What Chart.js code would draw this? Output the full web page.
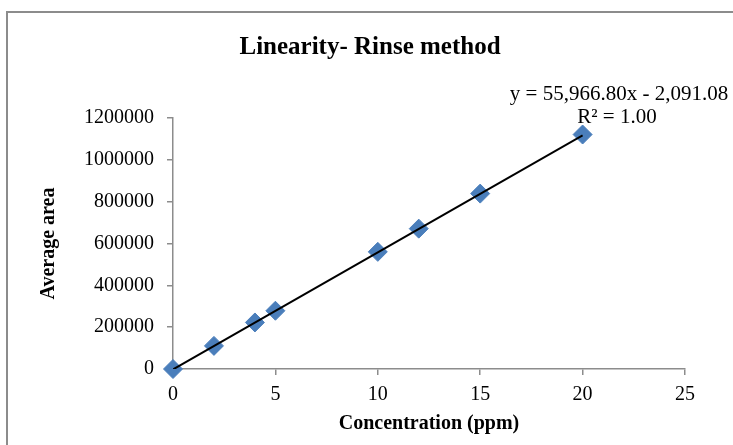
<!DOCTYPE html>
<html>
<head>
<meta charset="utf-8">
<script src="https://cdn.jsdelivr.net/npm/chart.js@4.4.1/dist/chart.umd.min.js"></script>
<style>
    body { margin: 0; background: #fff; }
    #wrap { position: relative; width: 733px; height: 445px; overflow: hidden; }
    #frame { position: absolute; left: 6px; top: 11px; width: 800px; height: 500px; border: 2px solid #8c8c8c; }
    #chart { position: absolute; left: 0; top: 0; }
</style>
</head>
<body>
<div id="wrap">
    <div id="frame"></div>
    <canvas id="chart" width="733" height="445"></canvas>
</div>
<script>
var concentration = [0, 2, 4, 5, 10, 12, 15, 20];
var averageArea = [0, 110500, 222500, 278500, 560000, 671000, 838500, 1121000];
var slope = 55966.80;
var intercept = -2091.08;
var chartTitle = 'Linearity- Rinse method';
var equationText = 'y = 55,966.80x - 2,091.08';
var r2Text = 'R\u00b2 = 1.00';
var xTitle = 'Concentration (ppm)';
var yTitle = 'Average area';

var serif = "'Liberation Serif', 'Times New Roman', serif";

var points = concentration.map(function (c, i) { return { x: c, y: averageArea[i] }; });
var trend = [0, 20].map(function (x) { return { x: x, y: slope * x + intercept }; });

// title and trendline label, drawn on top
var labelsPlugin = {
    id: 'labels',
    afterDraw: function (chart) {
        var ctx = chart.ctx;
        ctx.save();
        ctx.fillStyle = '#000';
        ctx.textAlign = 'center';
        ctx.textBaseline = 'middle';
        ctx.font = 'bold 25px ' + serif;
        ctx.fillText(chartTitle, 370, 48);
        ctx.font = '21px ' + serif;
        ctx.fillText(equationText, 619, 94);
        ctx.fillText(r2Text, 617, 117);
        ctx.restore();
    }
};

new Chart(document.getElementById('chart'), {
    type: 'scatter',
    data: {
        datasets: [{
            label: 'Trend',
            type: 'line',
            data: trend,
            borderColor: '#000',
            borderWidth: 2,
            pointRadius: 0,
            fill: false,
            order: 0
        }, {
            label: 'Average area',
            data: points,
            pointStyle: 'rectRot',
            pointRadius: 9.5,
            pointHoverRadius: 9.5,
            backgroundColor: '#4a7ebb',
            borderColor: '#4a7ebb',
            borderWidth: 1,
            clip: false,
            order: 1
        }]
    },
    options: {
        responsive: false,
        animation: false,
        events: [],
        layout: { padding: { left: 0, top: 118, right: 48, bottom: 0 } },
        plugins: { legend: { display: false }, tooltip: { enabled: false } },
        scales: {
            x: {
                type: 'linear',
                min: 0, max: 25,
                afterFit: function (scale) { scale.height = 76; },
                ticks: { stepSize: 5, color: '#000', padding: 8, font: { family: serif, size: 20 } },
                grid: { drawOnChartArea: false, color: '#8c8c8c', tickLength: 6, lineWidth: 1.5 },
                border: { color: '#8c8c8c', width: 1.5 },
                title: { display: true, text: xTitle, color: '#000', padding: { top: 4, bottom: 9 }, font: { family: serif, size: 20, weight: 'bold' } }
            },
            y: {
                min: 0, max: 1200000,
                afterFit: function (scale) { scale.width = 173; },
                ticks: {
                    stepSize: 200000, color: '#000', padding: 13, font: { family: serif, size: 20 },
                    callback: function (v) { return String(v); }
                },
                grid: { drawOnChartArea: false, color: '#8c8c8c', tickLength: 6, lineWidth: 1.5 },
                border: { color: '#8c8c8c', width: 1.5 },
                title: { display: true, text: yTitle, color: '#000', padding: { top: 37 }, font: { family: serif, size: 20, weight: 'bold' } }
            }
        }
    },
    plugins: [labelsPlugin]
});
</script>
</body>
</html>
